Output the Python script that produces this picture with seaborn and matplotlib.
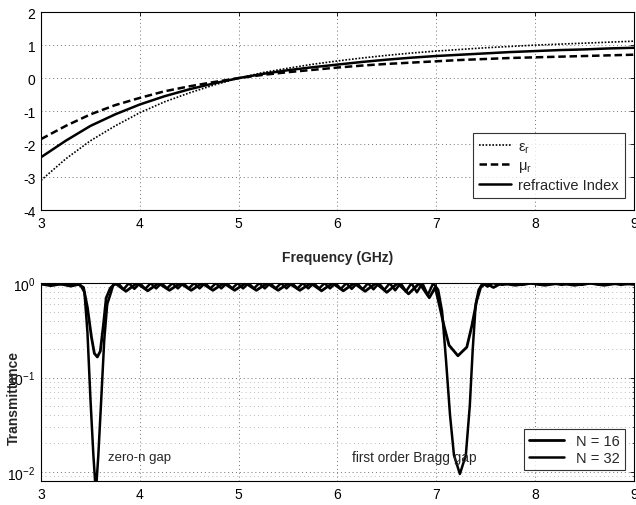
import numpy as np
import pandas as pd
import matplotlib
matplotlib.use("Agg")
import matplotlib.pyplot as plt
import seaborn as sns
from matplotlib.ticker import LogLocator, NullFormatter

# ---- top panel: effective parameters vs frequency ----
freq = [3.0, 3.25, 3.5, 3.75, 4.0, 4.25, 4.5, 4.75, 5.0, 5.25, 5.5, 5.75, 6.0,
        6.25, 6.5, 6.75, 7.0, 7.25, 7.5, 7.75, 8.0, 8.25, 8.5, 8.75, 9.0]
eps_r = [-3.1, -2.45, -1.9, -1.45, -1.05, -0.72, -0.45, -0.21, 0.0, 0.17, 0.3, 0.42, 0.52,
         0.61, 0.69, 0.76, 0.82, 0.87, 0.92, 0.96, 1.0, 1.03, 1.06, 1.09, 1.12]
mu_r = [-1.85, -1.45, -1.1, -0.82, -0.6, -0.4, -0.25, -0.12, 0.0, 0.1, 0.18, 0.25, 0.32,
        0.38, 0.43, 0.47, 0.51, 0.55, 0.58, 0.61, 0.63, 0.65, 0.67, 0.69, 0.71]
n_ref = [-2.4, -1.9, -1.45, -1.1, -0.8, -0.55, -0.34, -0.16, 0.0, 0.13, 0.24, 0.33, 0.41,
         0.49, 0.56, 0.62, 0.67, 0.71, 0.75, 0.79, 0.82, 0.85, 0.87, 0.9, 0.92]

# ---- bottom panel: transmittance, N = 16 ----
f16 = [3.0, 3.1, 3.2, 3.3, 3.38, 3.43, 3.47, 3.51, 3.54, 3.57,
       3.6, 3.63, 3.66, 3.7, 3.75,
       3.86, 3.97, 4.08, 4.19, 4.30, 4.41, 4.52, 4.63, 4.74, 4.85, 4.96, 5.07, 5.18, 5.29,
       5.40, 5.51, 5.62, 5.73, 5.84, 5.95, 6.06, 6.17, 6.28, 6.39, 6.50, 6.61, 6.72, 6.83,
       6.93, 6.99, 7.03, 7.08, 7.13, 7.22, 7.31, 7.36, 7.41, 7.45, 7.5, 7.58, 7.66,
       7.8, 7.95, 8.1, 8.25, 8.4, 8.55, 8.7, 8.85, 9.0]
t16 = [0.98, 0.94, 0.98, 0.93, 0.97, 0.9, 0.55, 0.27, 0.18, 0.165,
       0.19, 0.35, 0.7, 0.88, 1.0,
       0.82, 1.0, 0.83, 1.0, 0.84, 1.0, 0.84, 1.0, 0.84, 1.0, 0.84, 1.0, 0.84, 1.0,
       0.84, 1.0, 0.84, 1.0, 0.83, 1.0, 0.83, 1.0, 0.82, 1.0, 0.8, 1.0, 0.77, 1.0,
       0.7, 0.9, 0.6, 0.35, 0.22, 0.17, 0.21, 0.35, 0.65, 0.9, 1.0, 0.9, 1.0,
       0.95, 1.0, 0.95, 1.0, 0.95, 1.0, 0.95, 1.0, 0.97]

# ---- bottom panel: transmittance, N = 32 ----
f32 = [3.0, 3.05, 3.1, 3.15, 3.2, 3.25, 3.3, 3.35, 3.4, 3.44,
       3.47, 3.5, 3.53, 3.555, 3.58, 3.61, 3.64, 3.67, 3.7, 3.73,
       3.78, 3.835, 3.89, 3.945, 4.0, 4.055, 4.11, 4.165, 4.22, 4.275,
       4.33, 4.385, 4.44, 4.495, 4.55, 4.605, 4.66, 4.715, 4.77, 4.825,
       4.88, 4.935, 4.99, 5.045, 5.1, 5.155, 5.21, 5.265, 5.32, 5.375,
       5.43, 5.485, 5.54, 5.595, 5.65, 5.705, 5.76, 5.815, 5.87, 5.925,
       5.98, 6.035, 6.09, 6.145, 6.2, 6.255, 6.31, 6.365, 6.42, 6.475,
       6.53, 6.585, 6.64, 6.695, 6.75, 6.805, 6.86, 6.915, 6.97,
       7.02, 7.06, 7.1, 7.14, 7.18, 7.24, 7.3, 7.34, 7.37, 7.4, 7.43, 7.47, 7.52, 7.57,
       7.67, 7.77, 7.87, 7.97, 8.07, 8.17, 8.27, 8.37, 8.47, 8.57, 8.67, 8.77, 8.87, 9.0]
t32 = [0.97, 0.99, 0.96, 0.99, 0.97, 0.99, 0.96, 0.99, 0.95, 0.8,
       0.3, 0.06, 0.015, 0.006, 0.015, 0.06, 0.25, 0.6, 0.75, 0.95,
       1.0, 0.86, 1.0, 0.87, 1.0, 0.87, 1.0, 0.88, 1.0, 0.88,
       1.0, 0.88, 1.0, 0.88, 1.0, 0.88, 1.0, 0.88, 1.0, 0.88,
       1.0, 0.88, 1.0, 0.88, 1.0, 0.88, 1.0, 0.88, 1.0, 0.88,
       1.0, 0.88, 1.0, 0.88, 1.0, 0.88, 1.0, 0.88, 1.0, 0.88,
       1.0, 0.87, 1.0, 0.87, 1.0, 0.86, 1.0, 0.86, 1.0, 0.85,
       1.0, 0.84, 1.0, 0.82, 1.0, 0.8, 1.0, 0.75, 1.0,
       0.85, 0.5, 0.15, 0.04, 0.015, 0.0095, 0.015, 0.05, 0.2, 0.6, 0.85, 1.0, 0.92, 1.0,
       0.96, 1.0, 0.96, 1.0, 0.96, 1.0, 0.96, 1.0, 0.96, 1.0, 0.96, 1.0, 0.96, 1.0]

sns.set_style("white")
plt.rcParams['font.family'] = ['Liberation Sans', 'DejaVu Sans']
plt.rcParams['mathtext.fontset'] = 'custom'
plt.rcParams['mathtext.rm'] = 'Liberation Sans'
plt.rcParams['mathtext.it'] = 'Liberation Sans'
plt.rcParams['axes.unicode_minus'] = False

fig = plt.figure(figsize=(6.36, 5.06), dpi=100)
ax1 = fig.add_axes([0.0645, 0.583, 0.932, 0.391])
ax2 = fig.add_axes([0.0645, 0.0474, 0.932, 0.391])

grid_major = dict(color='0.45', linestyle=(0, (1, 3)), linewidth=0.7)
grid_minor = dict(color='0.65', linestyle=(0, (1, 4)), linewidth=0.6)

# top panel
df_top = pd.DataFrame({'f': freq, 'eps': eps_r, 'mu': mu_r, 'n': n_ref})
sns.lineplot(data=df_top, x='f', y='eps', ax=ax1, color='k', linestyle=(0, (1, 1)), lw=1.2,
             label=r'$\varepsilon_r$')
sns.lineplot(data=df_top, x='f', y='mu', ax=ax1, color='k', linestyle=(0, (3, 1.5)), lw=1.8,
             label=r'$\mu_r$')
sns.lineplot(data=df_top, x='f', y='n', ax=ax1, color='k', linestyle='-', lw=1.8,
             label='refractive Index')
ax1.set_xlim(3, 9)
ax1.set_ylim(-4, 2)
ax1.set_yticks([-4, -3, -2, -1, 0, 1, 2])
ax1.set_xticks([3, 4, 5, 6, 7, 8, 9])
ax1.grid(True, **grid_major)
ax1.set_xlabel('')
ax1.set_ylabel('')
leg1 = ax1.legend(loc='lower right', bbox_to_anchor=(0.997, 0.025), frameon=True, fancybox=False,
                  edgecolor='k', fontsize=10.5, handlelength=2.2, borderpad=0.4, labelspacing=0.25,
                  handletextpad=0.5)
leg1.get_frame().set_linewidth(0.8)
fig.text(0.531, 0.49, 'Frequency (GHz)', ha='center', va='center', fontsize=10, fontweight='bold')

# bottom panel
df16 = pd.DataFrame({'f': f16, 'T': t16})
df32 = pd.DataFrame({'f': f32, 'T': t32})
sns.lineplot(data=df16, x='f', y='T', ax=ax2, color='k', lw=2.0, label='N = 16')
sns.lineplot(data=df32, x='f', y='T', ax=ax2, color='k', lw=1.8, label='N = 32')
ax2.set_yscale('log')
ax2.set_xlim(3, 9)
ax2.set_ylim(0.008, 1.0)
ax2.set_xticks([3, 4, 5, 6, 7, 8, 9])
ax2.yaxis.set_major_locator(LogLocator(base=10, numticks=5))
ax2.yaxis.set_minor_locator(LogLocator(base=10, subs=np.arange(2, 10), numticks=20))
ax2.yaxis.set_minor_formatter(NullFormatter())
ax2.grid(True, which='major', **grid_major)
ax2.grid(True, which='minor', axis='y', **grid_minor)
ax2.set_xlabel('')
ax2.set_ylabel('')
fig.text(14 / 636, 1 - 398 / 506, 'Transmittance', rotation=90, ha='center', va='center',
         fontsize=10, fontweight='bold')
leg2 = ax2.legend(loc='lower right', bbox_to_anchor=(0.997, 0.02), frameon=True, fancybox=False,
                  edgecolor='k', fontsize=10.5, handlelength=2.4, borderpad=0.35, labelspacing=0.2)
leg2.get_frame().set_linewidth(0.8)
ax2.text(3.68, 0.0145, 'zero-n gap', fontsize=9.5, va='center', ha='left')
ax2.text(6.15, 0.0145, 'first order Bragg gap', fontsize=9.8, va='center', ha='left')

for ax in (ax1, ax2):
    for s in ax.spines.values():
        s.set_color('k')
        s.set_linewidth(0.8)
    ax.tick_params(direction='in', top=True, right=True, labelsize=10, length=3, width=0.6,
                   colors='k', pad=4)
    ax.tick_params(which='minor', direction='in', right=True, length=1.5, width=0.5)

fig.savefig('out.png', dpi=100)
